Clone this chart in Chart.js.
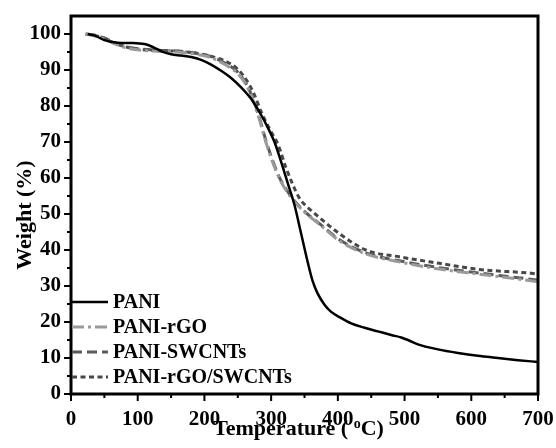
<!DOCTYPE html>
<html><head><meta charset="utf-8">
<script src="https://cdn.jsdelivr.net/npm/chart.js@4"></script>
<style>html,body{margin:0;padding:0;background:#fff}canvas{display:block}</style>
</head><body>
<canvas id="c" width="556" height="448"></canvas>
<script>
// ---- data ----
const seriesNames = ['PANI', 'PANI-rGO', 'PANI-SWCNTs', 'PANI-rGO/SWCNTs'];

const paniT = [25,35,50,70,90,110,120,130,140,150,165,180,195,210,225,240,255,270,285,295,305,315,325,335,345,355,362,370,380,390,403,420,440,460,480,495,505,520,550,580,610,640,670,700];
const paniW = [100,99.6,98.3,97.6,97.5,97.2,96.6,95.7,94.9,94.4,94.0,93.6,92.8,91.5,89.8,87.8,85.2,82.0,77.5,74.0,70.0,64.5,58.5,52.5,44.5,36.5,31.5,27.8,24.8,22.8,21.3,19.6,18.4,17.4,16.4,15.7,15.0,13.8,12.4,11.4,10.6,10.0,9.4,8.9];

const rgoT = [22,35,50,65,80,100,130,160,190,210,230,250,262,272,282,292,302,312,322,337,352,372,402,442,492,552,612,692,700];
const rgoW = [100,99.5,98.6,97.3,96.3,95.6,95.2,95.0,94.3,93.4,91.6,89.0,86.0,82.0,76.5,70.0,64.5,60.0,56.7,53.0,50.2,47.2,42.6,38.9,36.7,34.7,33.3,31.4,31.2];

const swT = [22,35,50,65,80,100,130,160,190,210,230,250,262,272,282,292,302,312,322,337,352,372,402,442,492,552,612,692,700];
const swW = [100,99.7,98.9,97.6,96.6,95.9,95.5,95.3,94.6,93.7,92.0,89.4,86.4,82.4,77.0,70.5,65.0,60.3,57.0,53.2,50.4,47.4,42.9,39.2,37.0,35.1,33.6,31.8,31.6];

const comboT = [22,35,50,65,80,100,130,160,190,210,230,250,262,274,286,298,311,322,342,352,365,402,442,492,552,612,692,700];
const comboW = [100,99.6,98.8,97.5,96.5,95.8,95.4,95.2,94.6,93.8,92.6,90.2,87.5,83.5,78.0,73.5,69.0,63.0,54.5,52.3,50.2,44.6,40.0,38.1,36.3,34.6,33.5,33.3];

const xTickValues = [0,100,200,300,400,500,600,700];
const xMinorValues = [50,150,250,350,450,550,650];
const yTickValues = [0,10,20,30,40,50,60,70,80,90,100];
const yMinorValues = [5,15,25,35,45,55,65,75,85,95];

const xTitle = ['Temperature ( ', 'o', 'C)'];
const yTitle = 'Weight (%)';

// ---- helpers ----
const FONT = "'Liberation Serif', 'Times New Roman', serif";
const pts = (t, w) => t.map((x, i) => ({x, y: w[i]}));

const framePlugin = {
  id: 'frame',
  afterDraw(chart) {
    const {ctx, chartArea: a, scales: {x, y}} = chart;
    ctx.save();
    ctx.strokeStyle = '#000';
    // ticks
    ctx.lineWidth = 2;
    ctx.beginPath();
    xTickValues.forEach(v => { const p = x.getPixelForValue(v); ctx.moveTo(p, a.bottom); ctx.lineTo(p, a.bottom + 7); });
    xMinorValues.forEach(v => { const p = x.getPixelForValue(v); ctx.moveTo(p, a.bottom); ctx.lineTo(p, a.bottom + 4); });
    yTickValues.forEach(v => { const p = y.getPixelForValue(v); ctx.moveTo(a.left, p); ctx.lineTo(a.left - 7, p); });
    yMinorValues.forEach(v => { const p = y.getPixelForValue(v); ctx.moveTo(a.left, p); ctx.lineTo(a.left - 4, p); });
    ctx.stroke();
    // frame
    ctx.lineWidth = 3;
    ctx.strokeRect(a.left, a.top, a.right - a.left, a.bottom - a.top);
    // x title with superscript
    ctx.fillStyle = '#000';
    ctx.textBaseline = 'alphabetic';
    const big = "bold 22px " + FONT, small = "bold 14px " + FONT;
    ctx.font = big; const w1 = ctx.measureText(xTitle[0]).width; const w3 = ctx.measureText(xTitle[2]).width;
    ctx.font = small; const w2 = ctx.measureText(xTitle[1]).width;
    let sx = (a.left + a.right) / 2 - 6 - (w1 + w2 + w3) / 2;
    const by = 435;
    ctx.font = big; ctx.textAlign = 'left'; ctx.fillText(xTitle[0], sx, by);
    ctx.font = small; ctx.fillText(xTitle[1], sx + w1, by - 7);
    ctx.font = big; ctx.fillText(xTitle[2], sx + w1 + w2, by);
    // y title
    ctx.save();
    ctx.translate(31, 215);
    ctx.rotate(-Math.PI / 2);
    ctx.textAlign = 'center';
    ctx.font = big;
    ctx.fillText(yTitle, 0, 0);
    ctx.restore();
    // legend
    const x0 = a.left + 1, lineLen = 36, top = 302, step = 25;
    chart.data.datasets.forEach((ds, i) => {
      const yy = top + i * step;
      ctx.strokeStyle = ds.borderColor;
      ctx.lineWidth = ds.borderWidth;
      ctx.setLineDash(ds.borderDash || []);
      ctx.beginPath(); ctx.moveTo(x0, yy); ctx.lineTo(x0 + lineLen, yy); ctx.stroke();
      ctx.setLineDash([]);
      ctx.fillStyle = '#000';
      ctx.font = "bold 20px " + FONT;
      ctx.textAlign = 'left';
      ctx.textBaseline = 'middle';
      ctx.fillText(ds.label, x0 + lineLen + 5, yy + 1);
    });
    ctx.restore();
  }
};

new Chart(document.getElementById('c'), {
  type: 'line',
  data: {
    datasets: [
      {label: seriesNames[0], data: pts(paniT, paniW), borderColor: '#000000', borderWidth: 2.5, borderDash: []},
      {label: seriesNames[1], data: pts(rgoT, rgoW), borderColor: '#9a9a9a', borderWidth: 3, borderDash: [12,4,3,4]},
      {label: seriesNames[2], data: pts(swT, swW), borderColor: '#5a5a5a', borderWidth: 3, borderDash: [10,5]},
      {label: seriesNames[3], data: pts(comboT, comboW), borderColor: '#474747', borderWidth: 3, borderDash: [5,3.5]}
    ].map(d => Object.assign(d, {pointRadius: 0, fill: false, cubicInterpolationMode: 'monotone'}))
  },
  options: {
    responsive: false,
    animation: false,
    devicePixelRatio: 1,
    layout: {padding: {top: 16, right: 18, left: 0, bottom: 0}},
    plugins: {legend: {display: false}, tooltip: {enabled: false}},
    scales: {
      x: {
        type: 'linear', min: 0, max: 700,
        afterFit: s => { s.height = 54; s.paddingLeft = 0; s.paddingRight = 0; },
        afterBuildTicks: s => { s.ticks = xTickValues.map(v => ({value: v})); },
        grid: {display: false, drawTicks: false},
        border: {display: false},
        ticks: {padding: 13, color: '#000', maxRotation: 0, autoSkip: false, font: {family: FONT, size: 21, weight: 'bold'}}
      },
      y: {
        type: 'linear', min: 0, max: 105,
        afterFit: s => { s.width = 71; s.paddingTop = 0; s.paddingBottom = 0; },
        afterBuildTicks: s => { s.ticks = yTickValues.map(v => ({value: v})); },
        grid: {display: false, drawTicks: false},
        border: {display: false},
        ticks: {padding: 10, color: '#000', autoSkip: false, font: {family: FONT, size: 21, weight: 'bold'}}
      }
    }
  },
  plugins: [framePlugin]
});
</script>
</body></html>
